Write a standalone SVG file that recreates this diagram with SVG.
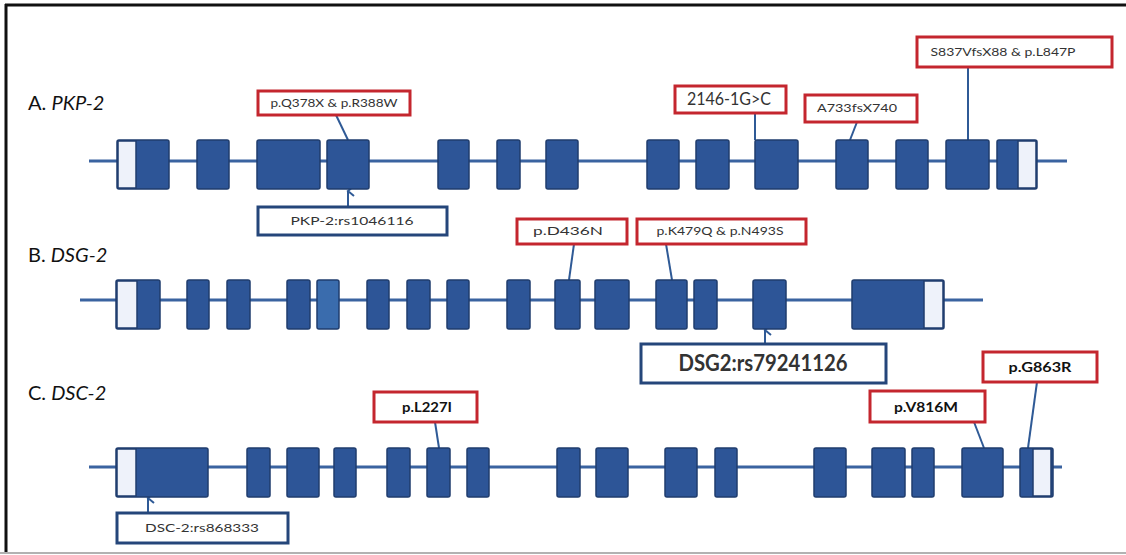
<svg xmlns="http://www.w3.org/2000/svg" width="1126" height="555" viewBox="0 0 1126 555">
<defs>
<style>
.ex{fill:#2d5597;stroke:#1f3c6e;stroke-width:1.5}
.ex2{fill:#3a6cad;stroke:#1f3c6e;stroke-width:1.5}
.utr{fill:#eef2fa;stroke:#1f3c6e;stroke-width:1.5}
.bb{fill:#2d5597}
.gl{stroke:#3a63a0;stroke-width:3}
.rb{fill:#fff;stroke:#c4262e;stroke-width:3}
.bl{fill:#fff;stroke:#25467a;stroke-width:3}
.cn{stroke:#2f5a96;stroke-width:2;fill:none}
.t{font-family:Lato,"Liberation Sans",sans-serif;fill:#333;text-anchor:middle}
.s{font-size:11px}
.b{font-weight:bold;font-size:14px;fill:#111}
.ttl{font-family:Lato,"Liberation Sans",sans-serif;font-size:20px;fill:#111}
</style>
<marker id="ar" markerWidth="12" markerHeight="10" refX="6" refY="2" orient="auto-start-reverse" markerUnits="userSpaceOnUse" viewBox="0 0 12 10">
<polyline points="1,8 6,2 11,8" fill="none" stroke="#2f5a96" stroke-width="2"/>
</marker>
</defs>
<rect width="1126" height="555" fill="#fff"/>
<g id="frame">
<line x1="5" y1="5" x2="1126" y2="5" stroke="#111" stroke-width="3"/>
<line x1="6" y1="4" x2="6" y2="552" stroke="#111" stroke-width="3"/>
<line x1="0" y1="553" x2="1126" y2="553" stroke="#999" stroke-width="1.5"/>
</g>
<g id="titles">
<text class="ttl" x="28" y="110">A. <tspan font-style="italic">PKP-2</tspan></text>
<text class="ttl" x="28" y="262">B. <tspan font-style="italic">DSG-2</tspan></text>
<text class="ttl" x="28" y="400">C. <tspan font-style="italic">DSC-2</tspan></text>
</g>
<g id="connectors">
<line class="gl" x1="89" y1="161" x2="1067" y2="161"/>
<line class="gl" x1="80" y1="300" x2="983" y2="300"/>
<line class="gl" x1="89" y1="467" x2="1062" y2="467"/>
<line class="cn" x1="336" y1="115" x2="348" y2="140"/>
<line class="cn" x1="348" y1="207" x2="348" y2="191" marker-end="url(#ar)"/>
<line class="cn" x1="755" y1="113" x2="755" y2="140"/>
<line class="cn" x1="857" y1="122" x2="850" y2="140"/>
<line class="cn" x1="968" y1="67" x2="968" y2="140"/>
<line class="cn" x1="574" y1="244" x2="569" y2="280"/>
<line class="cn" x1="666" y1="244" x2="672" y2="280"/>
<line class="cn" x1="765" y1="344" x2="765" y2="330" marker-end="url(#ar)"/>
<line class="cn" x1="435" y1="422" x2="439" y2="448"/>
<line class="cn" x1="148" y1="513" x2="148" y2="498" marker-end="url(#ar)"/>
<line class="cn" x1="974" y1="422" x2="984" y2="448"/>
<line class="cn" x1="1037" y1="382" x2="1028" y2="448"/>
</g>
<g id="geneA">
<rect class="ex" x="117" y="140" width="52" height="49" rx="2"/>
<rect class="utr" x="118" y="141" width="18" height="47"/>
<rect class="ex" x="197" y="140" width="32" height="49" rx="2"/>
<rect class="ex" x="257" y="140" width="63" height="49" rx="2"/>
<rect class="ex" x="327" y="140" width="42" height="49" rx="2"/>
<rect class="ex" x="438" y="140" width="31" height="49" rx="2"/>
<rect class="ex" x="497" y="140" width="23" height="49" rx="2"/>
<rect class="ex" x="546" y="140" width="32" height="49" rx="2"/>
<rect class="ex" x="647" y="140" width="32" height="49" rx="2"/>
<rect class="ex" x="696" y="140" width="33" height="49" rx="2"/>
<rect class="ex" x="755" y="140" width="43" height="49" rx="2"/>
<rect class="ex" x="836" y="140" width="32" height="49" rx="2"/>
<rect class="ex" x="896" y="140" width="32" height="49" rx="2"/>
<rect class="ex" x="946" y="140" width="43" height="49" rx="2"/>
<rect class="ex" x="997" y="140" width="40" height="49" rx="2"/>
<rect class="utr" x="1018" y="141" width="18" height="47"/>
</g>
<g id="geneB">
<rect class="ex" x="116" y="280" width="44" height="49" rx="2"/>
<rect class="utr" x="117" y="281" width="20" height="47"/>
<rect class="ex" x="187" y="280" width="22" height="49" rx="2"/>
<rect class="ex" x="227" y="280" width="23" height="49" rx="2"/>
<rect class="ex" x="287" y="280" width="23" height="49" rx="2"/>
<rect class="ex2" x="317" y="280" width="22" height="49" rx="2"/>
<rect class="ex" x="367" y="280" width="22" height="49" rx="2"/>
<rect class="ex" x="407" y="280" width="23" height="49" rx="2"/>
<rect class="ex" x="447" y="280" width="22" height="49" rx="2"/>
<rect class="ex" x="507" y="280" width="23" height="49" rx="2"/>
<rect class="ex" x="555" y="280" width="25" height="49" rx="2"/>
<rect class="ex" x="595" y="280" width="34" height="49" rx="2"/>
<rect class="ex" x="656" y="280" width="31" height="49" rx="2"/>
<rect class="ex" x="694" y="280" width="23" height="49" rx="2"/>
<rect class="ex" x="753" y="280" width="33" height="49" rx="2"/>
<rect class="ex" x="852" y="280" width="92" height="49" rx="2"/>
<rect class="utr" x="924" y="281" width="19" height="47"/>
</g>
<g id="geneC">
<rect class="ex" x="116" y="448" width="92" height="49" rx="2"/>
<rect class="utr" x="117" y="449" width="19" height="47"/>
<rect class="ex" x="247" y="448" width="23" height="49" rx="2"/>
<rect class="ex" x="287" y="448" width="32" height="49" rx="2"/>
<rect class="ex" x="334" y="448" width="22" height="49" rx="2"/>
<rect class="ex" x="387" y="448" width="23" height="49" rx="2"/>
<rect class="ex" x="427" y="448" width="23" height="49" rx="2"/>
<rect class="ex" x="467" y="448" width="22" height="49" rx="2"/>
<rect class="ex" x="557" y="448" width="23" height="49" rx="2"/>
<rect class="ex" x="596" y="448" width="32" height="49" rx="2"/>
<rect class="ex" x="665" y="448" width="32" height="49" rx="2"/>
<rect class="ex" x="715" y="448" width="22" height="49" rx="2"/>
<rect class="ex" x="814" y="448" width="32" height="49" rx="2"/>
<rect class="ex" x="872" y="448" width="33" height="49" rx="2"/>
<rect class="ex" x="912" y="448" width="22" height="49" rx="2"/>
<rect class="ex" x="962" y="448" width="41" height="49" rx="2"/>
<rect class="ex" x="1020" y="448" width="33" height="49" rx="2"/>
<rect class="utr" x="1033" y="449" width="18" height="47"/>
</g>
<g id="lblA1"><rect class="rb" x="258" y="91" width="152" height="24"/><text class="t s" x="334" y="107" textLength="127" lengthAdjust="spacingAndGlyphs">p.Q378X &amp; p.R388W</text></g>
<g id="lblA2"><rect class="bl" x="258" y="207" width="189" height="28"/><text class="t s" x="352" y="225" textLength="123" lengthAdjust="spacingAndGlyphs">PKP-2:rs1046116</text></g>
<g id="lblA3"><rect class="rb" x="675" y="86" width="111" height="27"/><text class="t" x="729" y="105" font-size="17" textLength="84" lengthAdjust="spacingAndGlyphs">2146-1G&gt;C</text></g>
<g id="lblA4"><rect class="rb" x="805" y="95" width="112" height="27"/><text class="t s" x="857" y="112" textLength="80" lengthAdjust="spacingAndGlyphs">A733fsX740</text></g>
<g id="lblA5"><rect class="rb" x="917" y="37" width="195" height="30"/><text class="t s" x="1003" y="56" textLength="145" lengthAdjust="spacingAndGlyphs">S837VfsX88 &amp; p.L847P</text></g>
<g id="lblB1"><rect class="rb" x="517" y="219" width="110" height="25"/><text class="t s" x="568" y="235" textLength="70" lengthAdjust="spacingAndGlyphs">p.D436N</text></g>
<g id="lblB2"><rect class="rb" x="637" y="219" width="169" height="25"/><text class="t s" x="720" y="235" textLength="127" lengthAdjust="spacingAndGlyphs">p.K479Q &amp; p.N493S</text></g>
<g id="lblB3"><rect class="bl" x="641" y="344" width="245" height="39"/><text class="t" x="763" y="371" font-size="22" font-weight="bold" fill="#111" textLength="169" lengthAdjust="spacingAndGlyphs">DSG2:rs79241126</text></g>
<g id="lblC1"><rect class="rb" x="374" y="392" width="103" height="30"/><text class="t b" x="427" y="412" textLength="50" lengthAdjust="spacingAndGlyphs">p.L227I</text></g>
<g id="lblC2"><rect class="bl" x="117" y="513" width="171" height="30"/><text class="t" x="202" y="532" font-size="12" textLength="114" lengthAdjust="spacingAndGlyphs">DSC-2:rs868333</text></g>
<g id="lblC3"><rect class="rb" x="870" y="391" width="115" height="31"/><text class="t b" x="926" y="412" textLength="64" lengthAdjust="spacingAndGlyphs">p.V816M</text></g>
<g id="lblC4"><rect class="rb" x="983" y="352" width="114" height="30"/><text class="t b" x="1040" y="372" textLength="63" lengthAdjust="spacingAndGlyphs">p.G863R</text></g>
</svg>
